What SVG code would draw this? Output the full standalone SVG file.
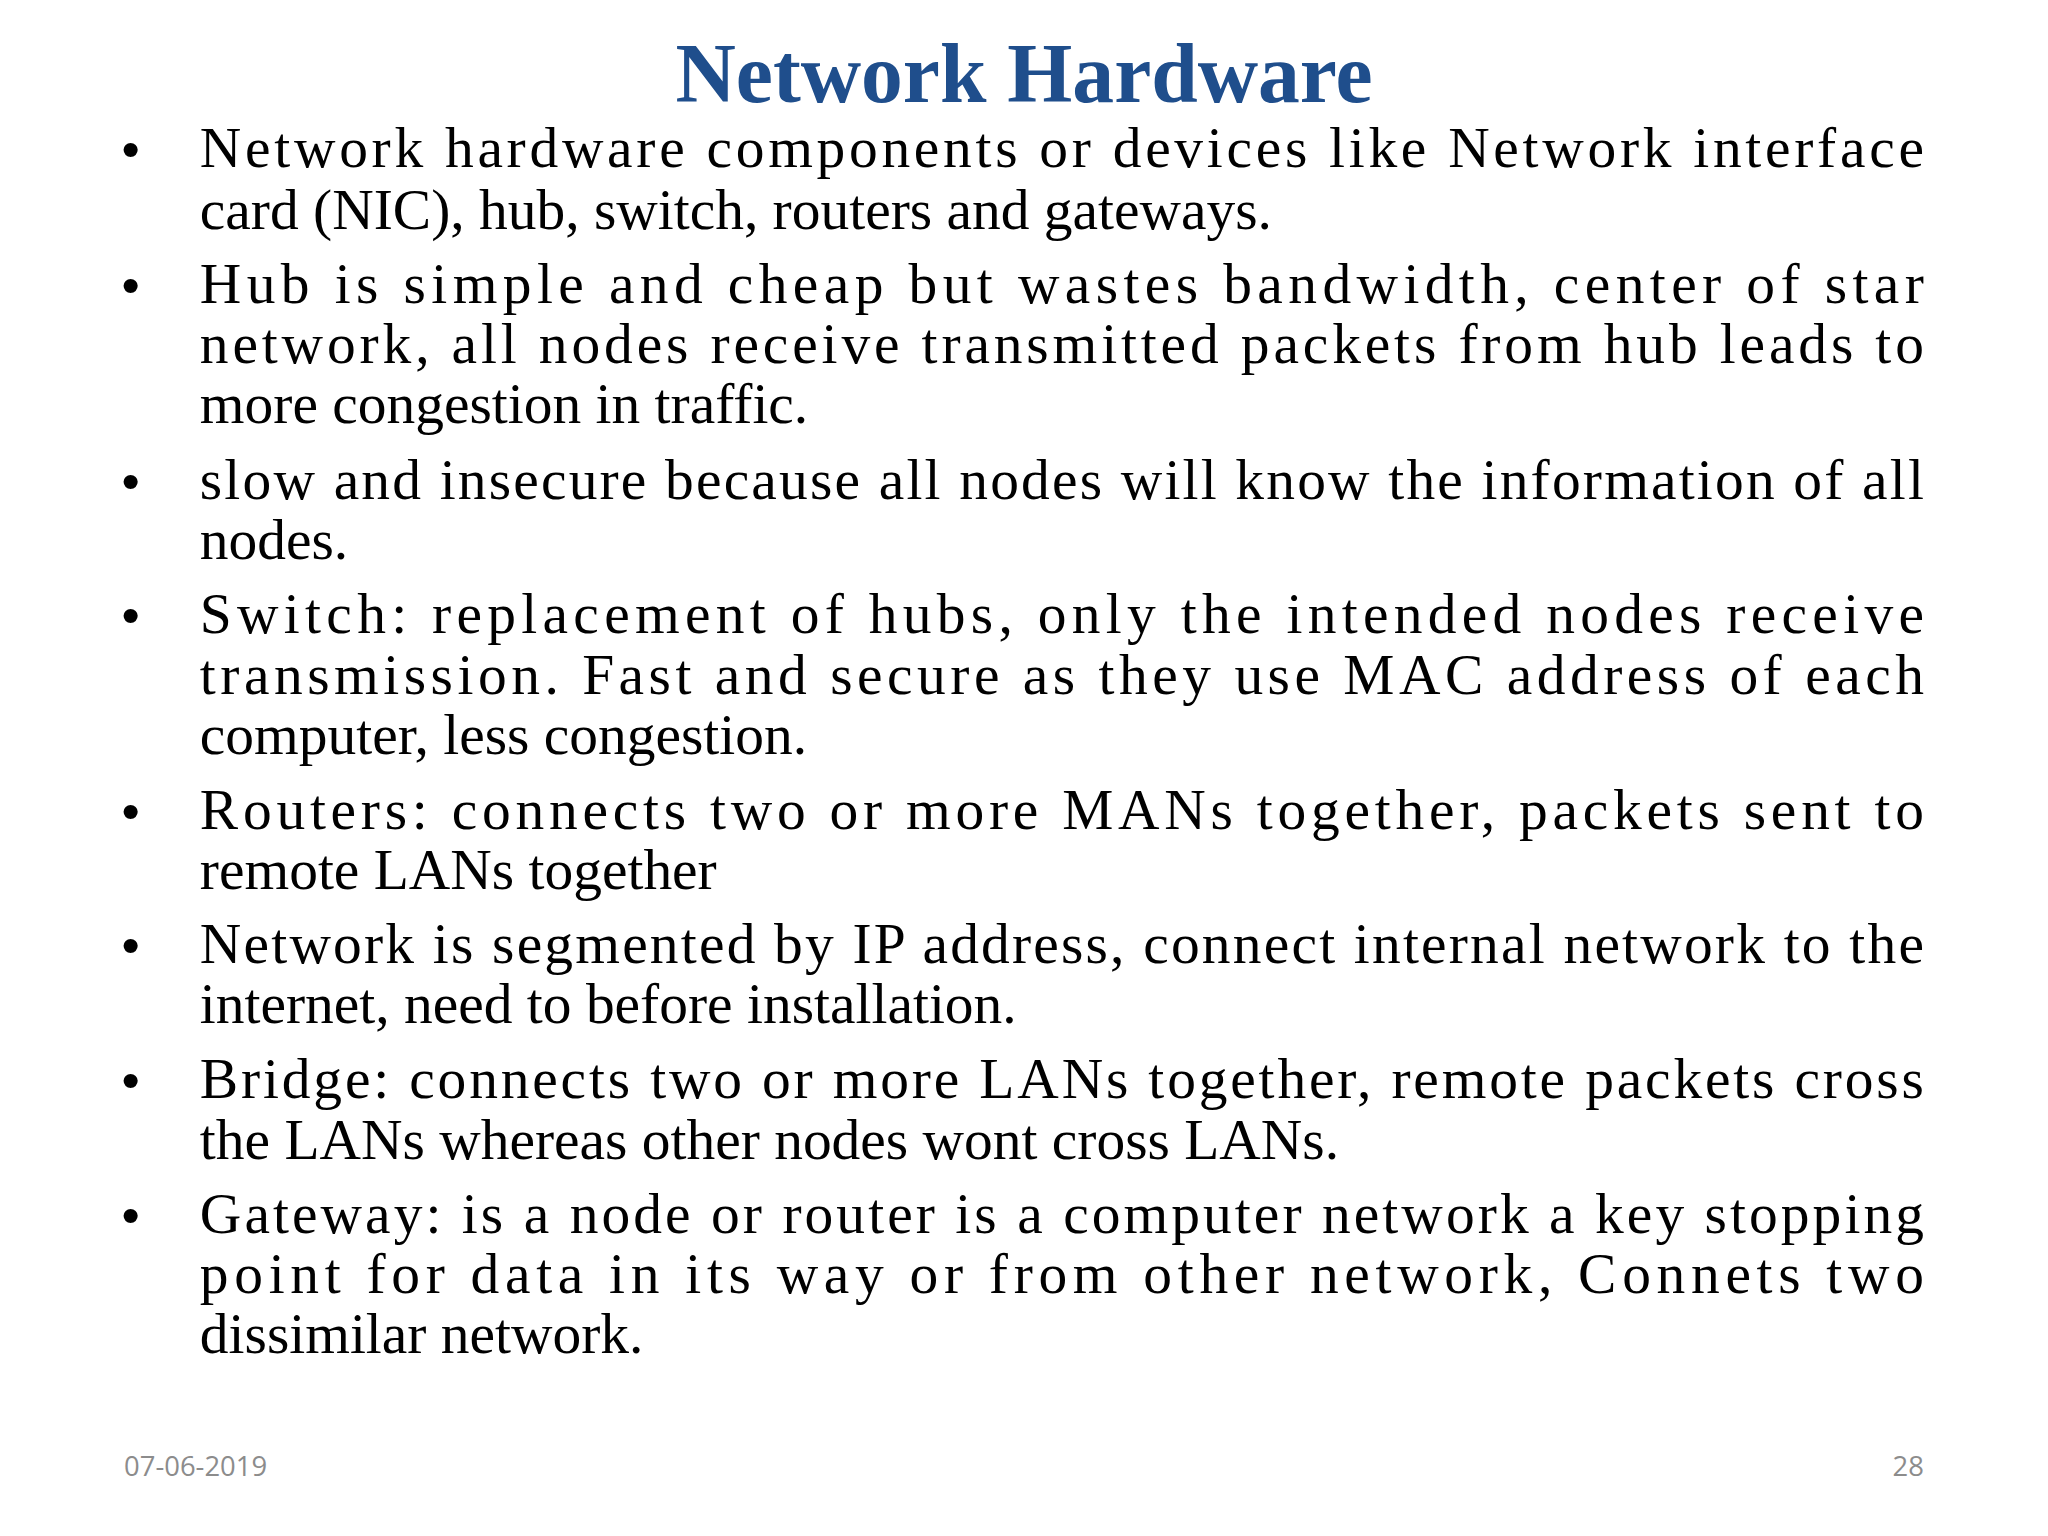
<svg xmlns="http://www.w3.org/2000/svg" width="2048" height="1536" viewBox="0 0 2048 1536">
<style>
.t{font-family:"Liberation Serif","Times New Roman",serif;font-size:44px;fill:#000}
.b{font-family:"Liberation Sans",Arial,sans-serif;font-size:40px;fill:#000}
.f{font-family:"Open Sans","Liberation Sans",sans-serif;font-size:21px;fill:#8c8c8c}
</style>
<rect width="2048" height="1536" fill="#fff"/>
<g transform="scale(1.30612)">
<text x="784" y="78" text-anchor="middle" style="font-family:'Liberation Serif',serif;font-weight:bold;font-size:64px;fill:#1f4e8c">Network Hardware</text>
<g id="bullets">
<text class="b" x="93" y="128">•</text>
<text class="b" x="93" y="232">•</text>
<text class="b" x="93" y="382">•</text>
<text class="b" x="93" y="485">•</text>
<text class="b" x="93" y="635">•</text>
<text class="b" x="93" y="737">•</text>
<text class="b" x="93" y="841">•</text>
<text class="b" x="93" y="944">•</text>
</g>
<g id="text">
<text class="t" x="153" y="128" textLength="1320" lengthAdjust="spacing">Network hardware components or devices like Network interface</text>
<text class="t" x="153" y="175">card (NIC), hub, switch, routers and gateways.</text>
<text class="t" x="153" y="232" textLength="1320" lengthAdjust="spacing">Hub is simple and cheap but wastes bandwidth, center of star</text>
<text class="t" x="153" y="278" textLength="1320" lengthAdjust="spacing">network, all nodes receive transmitted packets from hub leads to</text>
<text class="t" x="153" y="324">more congestion in traffic.</text>
<text class="t" x="153" y="382" textLength="1320" lengthAdjust="spacing">slow and insecure because all nodes will know the information of all</text>
<text class="t" x="153" y="428">nodes.</text>
<text class="t" x="153" y="485" textLength="1320" lengthAdjust="spacing">Switch: replacement of hubs, only the intended nodes receive</text>
<text class="t" x="153" y="531" textLength="1320" lengthAdjust="spacing">transmission. Fast and secure as they use MAC address  of  each</text>
<text class="t" x="153" y="577">computer, less congestion.</text>
<text class="t" x="153" y="635" textLength="1320" lengthAdjust="spacing">Routers: connects two or more MANs together, packets sent to</text>
<text class="t" x="153" y="681">remote LANs together</text>
<text class="t" x="153" y="737" textLength="1320" lengthAdjust="spacing">Network is segmented by IP address, connect internal network to the</text>
<text class="t" x="153" y="783">internet, need to before installation.</text>
<text class="t" x="153" y="841" textLength="1320" lengthAdjust="spacing">Bridge: connects two or more LANs together, remote  packets cross</text>
<text class="t" x="153" y="887">the LANs whereas other nodes wont cross LANs.</text>
<text class="t" x="153" y="944" textLength="1320" lengthAdjust="spacing">Gateway: is a node or router is a computer network a key stopping</text>
<text class="t" x="153" y="990" textLength="1320" lengthAdjust="spacing">point for data in its way or from other network, Connets  two</text>
<text class="t" x="153" y="1036">dissimilar  network.</text>
</g>
<text class="f" x="95" y="1130">07-06-2019</text>
<text class="f" x="1473" y="1130" text-anchor="end">28</text>
</g>
</svg>
